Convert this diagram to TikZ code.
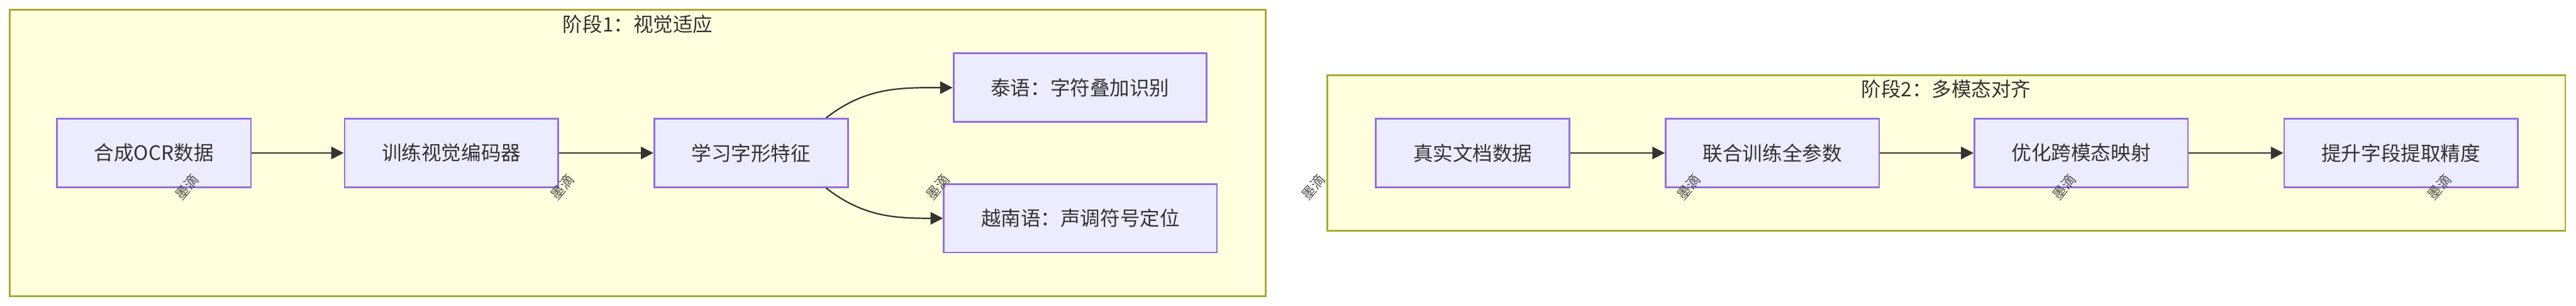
\documentclass[tikz,border=0pt]{standalone}
\usepackage{fontspec}
\setmainfont{Noto Sans CJK SC}
\usepackage{xcolor}
\usepackage{tikz}
\usetikzlibrary{arrows.meta, positioning}

\definecolor{clusterfill}{HTML}{FFFFDE}
\definecolor{clusterline}{HTML}{AAAA33}
\definecolor{boxfill}{HTML}{ECECFF}
\definecolor{boxline}{HTML}{9370DB}
\definecolor{inkdark}{HTML}{333333}

\begin{document}
\begin{tikzpicture}[
    font=\fontsize{10pt}{12pt}\selectfont,
    every node/.style={text=inkdark},
    stagebox/.style={draw=clusterline, fill=clusterfill, line width=0.9pt},
    procbox/.style={draw=boxline, fill=boxfill, line width=0.9pt, minimum height=1.21cm, inner xsep=0.66cm},
    flow/.style={draw=inkdark, line width=0.7pt, -{Triangle[length=0.22cm, width=0.22cm]}},
    wmark/.style={rotate=50, font=\fontsize{7pt}{8pt}\selectfont, text=inkdark, opacity=0.85, inner sep=0pt}
]
    \useasboundingbox (0,0) rectangle (45.6,5.41);

    % Stages
    \draw[stagebox] (0.175,0.17) rectangle (22.40,5.24);
    \node (title1) at (11.29,4.98) {阶段1：视觉适应};

    \draw[stagebox] (23.50,1.33) rectangle (45.41,4.08);
    \node (title2) at (34.45,3.83) {阶段2：多模态对齐};

    % Stage 1 boxes
    \node[procbox] (ocr)  at (2.725,2.705) {合成OCR数据};
    \node[procbox] (enc)  at (7.99,2.705)  {训练视觉编码器};
    \node[procbox] (feat) at (13.295,2.705) {学习字形特征};
    \node[procbox] (thai) at (19.12,3.86)  {泰语：字符叠加识别};
    \node[procbox] (viet) at (19.125,1.55) {越南语：声调符号定位};

    % Stage 2 boxes
    \node[procbox] (real)  at (26.07,2.705)  {真实文档数据};
    \node[procbox] (joint) at (31.375,2.705) {联合训练全参数};
    \node[procbox] (cross) at (36.84,2.705)  {优化跨模态映射};
    \node[procbox] (field) at (42.50,2.705)  {提升字段提取精度};

    % Arrows
    \draw[flow] (ocr) -- (enc);
    \draw[flow] (enc) -- (feat);
    \coordinate (feattop) at ([xshift=-0.4cm]feat.north east);
    \coordinate (featbot) at ([xshift=-0.4cm]feat.south east);
    \draw[flow] (feattop) to[out=38, in=180] (thai.west);
    \draw[flow] (featbot) to[out=-38, in=180] (viet.west);
    \draw[flow] (real) -- (joint);
    \draw[flow] (joint) -- (cross);
    \draw[flow] (cross) -- (field);

    % Watermark
    \foreach \i in {0,...,6}
        \node[wmark] (wm\i) at (3.31+6.645*\i,2.10) {墨滴};
\end{tikzpicture}
\end{document}
